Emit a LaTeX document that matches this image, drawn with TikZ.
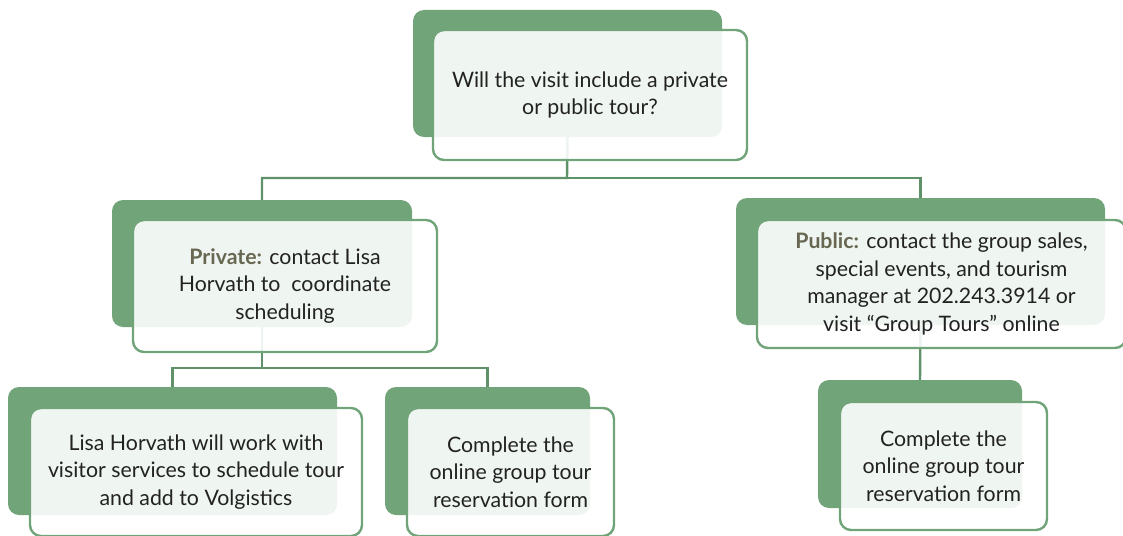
\documentclass[tikz,border=0pt]{standalone}
\usepackage{fontspec}
\setmainfont{Lato}
\usetikzlibrary{positioning}
\definecolor{sagegreen}{RGB}{114,164,122}
\definecolor{linegreen}{RGB}{96,146,106}
\definecolor{labelgray}{RGB}{104,104,82}
\definecolor{inkgray}{RGB}{34,34,34}
\newcommand{\lbl}[1]{\textcolor{labelgray}{\textbf{#1}}}
\begin{document}
\begin{tikzpicture}[x=1pt,y=-1pt,
	backbox/.style={fill=sagegreen,rounded corners=11pt,inner sep=0pt},
	frontbox/.style={draw=sagegreen,line width=2.4pt,fill=white,fill opacity=0.89,text opacity=1,rounded corners=11pt,inner sep=0pt,align=center,text=inkgray,font=\fontsize{21.3}{27.5}\selectfont},
	link/.style={draw=linegreen,line width=2.4pt}]
	\useasboundingbox (0,0) rectangle (1123,535);
	\clip (0,0) rectangle (1123,535);
	% back shapes
	\node[backbox,minimum width=309pt,minimum height=127pt] (topback) at (567.5,73.5) {};
	\node[backbox,minimum width=300pt,minimum height=127pt] (privback) at (262,263.5) {};
	\node[backbox,minimum width=369pt,minimum height=127pt] (pubback) at (920.5,261.5) {};
	\node[backbox,minimum width=329pt,minimum height=128pt] (lisaback) at (172.5,451) {};
	\node[backbox,minimum width=205pt,minimum height=128pt] (formback) at (487.5,451) {};
	\node[backbox,minimum width=204pt,minimum height=128pt] (pformback) at (920,444) {};
	% connectors
	\coordinate (split) at (567,178);
	\coordinate (psplit) at (262,368);
	\draw[link] (topback.south) -- (split) -| (privback.north);
	\draw[link] (split) -| (pubback.north);
	\draw[link] (privback.south) -- (psplit) -| (lisaback.north);
	\draw[link] (psplit) -| (formback.north);
	\draw[link] (pubback.south) -- (pformback.north);
	% front shapes
	\node[frontbox,minimum width=314pt,minimum height=130pt] (top) at (590,95) {Will the visit include a private\\or public tour?};
	\node[frontbox,minimum width=304pt,minimum height=132pt] (priv) at (285,286) {\lbl{Private:} contact Lisa\\Horvath to\ \ coordinate\\scheduling};
	\node[frontbox,minimum width=369pt,minimum height=128pt] (pub) at (941.5,284) {\lbl{Public:} contact the group sales,\\special events, and tourism\\manager at 202.243.3914 or\\visit “Group Tours” online};
	\node[frontbox,minimum width=332pt,minimum height=128pt] (lisa) at (196,472) {Lisa Horvath will work with\\visitor services to schedule tour\\and add to Volgistics};
	\node[frontbox,minimum width=207pt,minimum height=128pt] (form) at (510.5,472) {Complete the\\online group tour\\reservation form};
	\node[frontbox,minimum width=207pt,minimum height=128pt] (pform) at (943.5,466) {Complete the\\online group tour\\reservation form};
\end{tikzpicture}
\end{document}
